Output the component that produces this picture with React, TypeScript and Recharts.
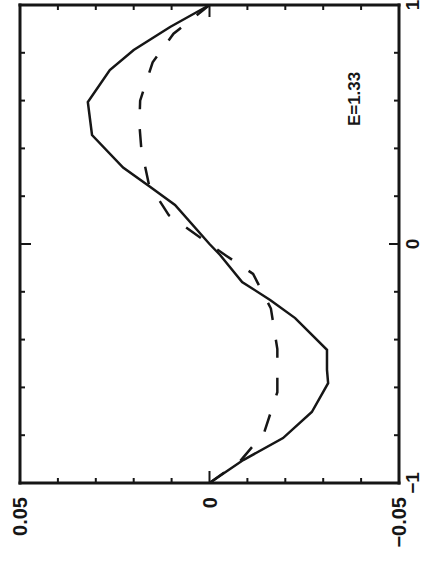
import React from 'react';
import { LineChart, Line, XAxis, YAxis, ReferenceDot } from 'recharts';

// solid curve: position along the axis (-1..1) and value
const solidX = [-1, -0.904, -0.812, -0.703, -0.582, -0.527, -0.443, -0.31, -0.234, -0.159, -0.046, 0, 0.163, 0.24, 0.32, 0.456, 0.594, 0.728, 0.812, 0.908, 1];
const solidV = [0, -0.0089, -0.0194, -0.027, -0.0313, -0.031, -0.031, -0.0226, -0.016, -0.0086, -0.0028, 0, 0.0091, 0.0157, 0.0228, 0.031, 0.0321, 0.0263, 0.02, 0.0104, 0];

// dashed curve
const dashedX = [-1, -0.91, -0.79, -0.62, -0.44, -0.27, -0.125, -0.05, 0, 0.05, 0.12, 0.25, 0.4, 0.5, 0.6, 0.76, 0.88, 1];
const dashedV = [0, -0.008, -0.0144, -0.0179, -0.0179, -0.0162, -0.0115, -0.0045, 0, 0.0045, 0.0107, 0.016, 0.018, 0.0185, 0.0183, 0.015, 0.0095, 0];

// value axis ticks (drawn horizontally, reversed)
const valueTicks = [-0.05, -0.04, -0.03, -0.02, -0.01, 0, 0.01, 0.02, 0.03, 0.04, 0.05];
const valueLabelTicks = [0.05, 0, -0.05];
const valueLabelTexts = ['0.05', '0', '\u22120.05'];

// position axis ticks (drawn vertically)
const posTicks = [-1, -0.8, -0.6, -0.4, -0.2, 0, 0.2, 0.4, 0.6, 0.8, 1];
const posLabelTicks = [-1, 0, 1];
const posLabelTexts = ['\u22121', '0', '1'];

const annotationText = 'E=1.33';
const annotationAt = { v: -0.038, x: 0.607 };

const solidData = solidX.map((x, i) => ({ x, v: solidV[i] }));
const dashedData = dashedX.map((x, i) => ({ x, v: dashedV[i] }));

const INK = '#161616';
const FONT = '"Liberation Sans", Arial, Helvetica, sans-serif';

const findIdx = (arr: number[], v: number) => arr.findIndex((t) => Math.abs(t - v) < 1e-9);

const BottomTick = (props: any) => {
  const { x, y, payload } = props;
  const v = payload.value;
  const major = Math.abs(v) < 1e-9;
  const idx = findIdx(valueLabelTicks, v);
  return (
    <g>
      <line x1={x} y1={y} x2={x} y2={y - (major ? 12 : 5)} stroke={INK} strokeWidth={2} />
      {idx >= 0 && (
        <text
          transform={`translate(${x + 7},${y + 14}) rotate(-90)`}
          textAnchor="end"
          fontSize={20}
          fontWeight="bold"
          fontFamily={FONT}
          fill={INK}
        >
          {valueLabelTexts[idx]}
        </text>
      )}
    </g>
  );
};

const TopTick = (props: any) => {
  const { x, y, payload } = props;
  const major = Math.abs(payload.value) < 1e-9;
  return <line x1={x} y1={y} x2={x} y2={y + (major ? 12 : 5)} stroke={INK} strokeWidth={2} />;
};

const RightTick = (props: any) => {
  const { x, y, payload } = props;
  const v = payload.value;
  const major = Math.abs(v) < 1e-9;
  const idx = findIdx(posLabelTicks, v);
  return (
    <g>
      <line x1={x} y1={y} x2={x - (major ? 10 : 5)} y2={y} stroke={INK} strokeWidth={2} />
      {idx >= 0 && (
        <text
          transform={`translate(${x + 20},${y}) rotate(-90)`}
          textAnchor="middle"
          fontSize={19}
          fontWeight="bold"
          fontFamily={FONT}
          fill={INK}
        >
          {posLabelTexts[idx]}
        </text>
      )}
    </g>
  );
};

const LeftTick = (props: any) => {
  const { x, y, payload } = props;
  const major = Math.abs(payload.value) < 1e-9;
  return <line x1={x} y1={y} x2={x + (major ? 11 : 5)} y2={y} stroke={INK} strokeWidth={2} />;
};

const AnnotationLabel = (props: any) => {
  const vb = props.viewBox || {};
  const cx = (vb.x || 0) + (vb.width || 0) / 2;
  const cy = (vb.y || 0) + (vb.height || 0) / 2;
  return (
    <text
      transform={`translate(${cx + 6},${cy}) rotate(-90)`}
      textAnchor="middle"
      fontSize={17}
      fontWeight="bold"
      fontFamily={FONT}
      fill={INK}
    >
      {annotationText}
    </text>
  );
};

const axisLineStyle = { stroke: INK, strokeWidth: 3, strokeLinecap: 'square' as const };

export default function App() {
  return (
    <div style={{ position: 'absolute', left: 0, top: 0, width: 424, height: 562, background: '#fff' }}>
      <LineChart
        width={424}
        height={562}
        layout="vertical"
        margin={{ top: 4, right: 0, bottom: 0, left: 19 }}
        style={{ fontFamily: FONT }}
      >
        <XAxis
          xAxisId="b"
          type="number"
          orientation="bottom"
          domain={[-0.05, 0.05]}
          reversed
          height={79}
          ticks={valueTicks}
          interval={0}
          tickSize={0}
          tickMargin={0}
          tickLine={false}
          tick={<BottomTick />}
          axisLine={axisLineStyle}
        />
        <XAxis
          xAxisId="t"
          type="number"
          orientation="top"
          domain={[-0.05, 0.05]}
          reversed
          height={1}
          ticks={valueTicks}
          interval={0}
          tickSize={0}
          tickMargin={0}
          tickLine={false}
          tick={<TopTick />}
          axisLine={axisLineStyle}
        />
        <YAxis
          yAxisId="r"
          type="number"
          dataKey="x"
          orientation="right"
          domain={[-1, 1]}
          reversed
          width={25}
          ticks={posTicks}
          interval={0}
          tickSize={0}
          tickMargin={0}
          tickLine={false}
          tick={<RightTick />}
          axisLine={axisLineStyle}
        />
        <YAxis
          yAxisId="l"
          type="number"
          dataKey="x"
          orientation="left"
          domain={[-1, 1]}
          reversed
          width={1}
          ticks={posTicks}
          interval={0}
          tickSize={0}
          tickMargin={0}
          tickLine={false}
          tick={<LeftTick />}
          axisLine={axisLineStyle}
        />
        {/* invisible carrier so the top and left frame axes are drawn */}
        <Line
          xAxisId="t"
          yAxisId="l"
          data={solidData}
          dataKey="v"
          type="linear"
          stroke="none"
          strokeWidth={0}
          dot={false}
          activeDot={false}
          isAnimationActive={false}
        />
        <Line
          xAxisId="b"
          yAxisId="r"
          data={solidData}
          dataKey="v"
          type="linear"
          stroke={INK}
          strokeWidth={2.5}
          dot={false}
          isAnimationActive={false}
        />
        <Line
          xAxisId="b"
          yAxisId="r"
          data={dashedData}
          dataKey="v"
          type="linear"
          stroke={INK}
          strokeWidth={2.5}
          strokeDasharray="18 20"
          dot={false}
          isAnimationActive={false}
        />
        <ReferenceDot
          xAxisId="b"
          yAxisId="r"
          x={annotationAt.v}
          y={annotationAt.x}
          r={0}
          fill="none"
          stroke="none"
          label={<AnnotationLabel />}
        />
      </LineChart>
    </div>
  );
}
